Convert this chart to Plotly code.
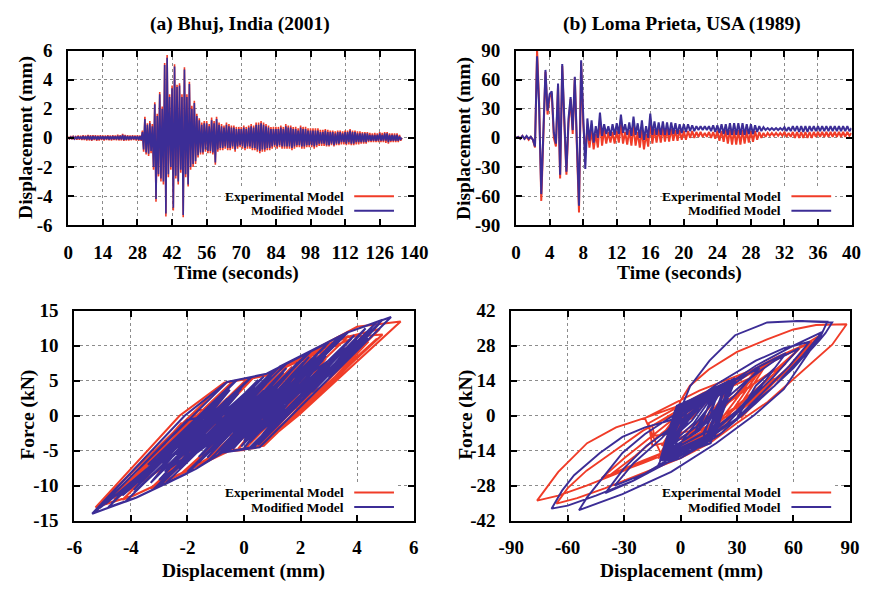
import numpy as np
import plotly.graph_objects as go

W, H = 882, 596
SERIF = "Liberation Serif, Times New Roman, serif"
RED = "#f03c28"
BLUE = "#3c2d96"

# ---- (a) Bhuj: displacement history (mm), every 0.5 s ----
BHUJ_DT = 0.5
bhuj_mod = [
    0.03, -0.05, 0.06, -0.05, 0.08, -0.07, 0.06, -0.08, 0.1, -0.08, 0.09, -0.1, 0.12, -0.1, 0.1, -0.12, 0.14, -0.12, 0.12, -0.15,
    0.12, -0.1, 0.13, -0.14, 0.1, -0.12, 0.12, -0.1, 0.11, -0.12, 0.1, -0.09, 0.12, -0.11, 0.1, -0.12, 0.12, -0.1, 0.1, -0.11,
    0.15, -0.12, 0.13, -0.12, 0.2, -0.15, 0.14, -0.13, 0.12, -0.12, 0.1, -0.11, 0.13, -0.1, 0.1, -0.12, 0.12, -0.14, 0.1, -0.15,
    0.4, -0.8, 1.3, -1.0, 0.9, -1.1, 1.0, -0.9, 0.8, -2.0, 2.3, -4.2, 1.5, -2.5, 3.0, -2.8, 2.0, -3.0, 5.0, -5.2,
    5.5, -2.5, 2.8, -2.0, 3.4, -4.8, 4.9, -2.6, 3.5, -3.0, 3.6, -2.2, 2.8, -5.3, 4.7, -2.5, 2.8, -3.2, 3.7, -2.0,
    2.0, -1.8, 2.4, -1.6, 1.5, -1.2, 1.2, -1.0, 0.9, -1.0, 1.0, -0.8, 1.0, -0.9, 0.8, -0.9, 1.2, -1.0, 1.0, -1.7,
    1.3, -0.8, 0.9, -0.7, 0.8, -0.7, 0.7, -0.6, 0.9, -0.7, 0.8, -0.7, 0.7, -0.6, 0.7, -0.8, 0.6, -0.6, 0.6, -0.5,
    0.6, -0.6, 0.7, -0.7, 0.6, -0.6, 0.7, -0.6, 0.8, -0.7, 0.7, -0.7, 0.9, -0.8, 0.9, -0.9, 1.0, -0.8, 0.9, -0.8,
    0.8, -0.7, 0.7, -0.7, 0.6, -0.6, 0.6, -0.5, 0.6, -0.6, 0.6, -0.5, 0.7, -0.6, 0.6, -0.6, 0.8, -0.6, 0.7, -0.6,
    0.7, -0.7, 0.6, -0.6, 0.6, -0.5, 0.5, -0.5, 0.7, -0.6, 0.6, -0.6, 0.6, -0.5, 0.5, -0.5, 0.5, -0.5, 0.5, -0.6,
    0.5, -0.5, 0.5, -0.4, 0.4, -0.4, 0.4, -0.4, 0.5, -0.5, 0.4, -0.5, 0.4, -0.4, 0.4, -0.5, 0.3, -0.4, 0.4, -0.4,
    0.4, -0.3, 0.3, -0.3, 0.4, -0.4, 0.4, -0.3, 0.5, -0.4, 0.4, -0.4, 0.4, -0.3, 0.3, -0.3, 0.3, -0.3, 0.3, -0.3,
    0.3, -0.3, 0.3, -0.2, 0.2, -0.2, 0.2, -0.2, 0.2, -0.2, 0.2, -0.2, 0.3, -0.2, 0.2, -0.2, 0.3, -0.2, 0.3, -0.3,
    0.2, -0.2, 0.2, -0.2, 0.2, -0.2, 0.2, -0.2, 0.1, -0.1, 0.0,
]
bhuj_exp = [
    0.08, -0.1, 0.12, -0.1, 0.14, -0.13, 0.12, -0.14, 0.16, -0.14, 0.15, -0.16, 0.18, -0.16, 0.16, -0.18, 0.2, -0.18, 0.18, -0.21,
    0.18, -0.16, 0.19, -0.2, 0.16, -0.18, 0.18, -0.16, 0.17, -0.18, 0.16, -0.15, 0.18, -0.17, 0.16, -0.18, 0.18, -0.16, 0.16, -0.17,
    0.21, -0.18, 0.19, -0.18, 0.27, -0.21, 0.2, -0.19, 0.18, -0.18, 0.16, -0.17, 0.19, -0.16, 0.16, -0.18, 0.18, -0.2, 0.16, -0.21,
    0.5, -0.95, 1.45, -1.15, 1.0, -1.25, 1.15, -1.05, 0.95, -2.2, 2.45, -4.4, 1.65, -2.65, 3.15, -3.0, 2.15, -3.2, 5.15, -5.4,
    5.7, -2.7, 3.0, -2.2, 3.6, -5.0, 5.05, -2.8, 3.65, -3.2, 3.75, -2.4, 3.0, -5.45, 4.85, -2.7, 3.0, -3.35, 3.85, -2.2,
    2.2, -2.0, 2.55, -1.8, 1.65, -1.35, 1.35, -1.15, 1.05, -1.15, 1.15, -0.95, 1.15, -1.05, 0.95, -1.05, 1.4, -1.15, 1.15, -1.85,
    1.45, -0.95, 1.05, -0.85, 0.95, -0.85, 0.85, -0.75, 1.05, -0.85, 0.95, -0.85, 0.85, -0.75, 0.85, -0.95, 0.75, -0.75, 0.75, -0.65,
    0.75, -0.75, 0.85, -0.85, 0.75, -0.75, 0.85, -0.75, 0.95, -0.85, 0.85, -0.85, 1.05, -0.95, 1.05, -1.05, 1.15, -0.95, 1.05, -0.95,
    0.95, -0.85, 0.85, -0.85, 0.75, -0.75, 0.75, -0.65, 0.75, -0.75, 0.75, -0.65, 0.85, -0.75, 0.75, -0.75, 0.95, -0.75, 0.85, -0.75,
    0.85, -0.85, 0.75, -0.75, 0.75, -0.65, 0.65, -0.65, 0.85, -0.75, 0.75, -0.75, 0.75, -0.65, 0.65, -0.65, 0.65, -0.65, 0.65, -0.75,
    0.65, -0.65, 0.65, -0.55, 0.55, -0.55, 0.55, -0.55, 0.6, -0.6, 0.55, -0.6, 0.5, -0.5, 0.5, -0.6, 0.45, -0.5, 0.5, -0.5,
    0.5, -0.45, 0.45, -0.45, 0.5, -0.5, 0.5, -0.45, 0.6, -0.5, 0.5, -0.5, 0.5, -0.45, 0.45, -0.45, 0.45, -0.4, 0.4, -0.4,
    0.4, -0.4, 0.4, -0.3, 0.35, -0.3, 0.3, -0.3, 0.35, -0.3, 0.3, -0.3, 0.4, -0.3, 0.35, -0.3, 0.4, -0.35, 0.4, -0.4,
    0.3, -0.3, 0.3, -0.3, 0.3, -0.3, 0.3, -0.3, 0.2, -0.2, 0.0,
]

# ---- (b) Loma Prieta: displacement history (mm), every 0.25 s ----
LOMA_DT = 0.25
loma_mod = [0, 1, -1, 2, -1, 2, -1, 1, -2, -9,
            84, 30, -58, 15, 70, 28, 45, 48, 5, -6,
            56, -38, 76, 20, -35, 20, 42, 8, 63, -5,
            -70, 80, 20, -32, 20, -3, 18, -5, 12, 0,
            26, 2, 14, 4, 12, 2, 14, 3, 15, 4,
            24, 5, 14, 3, 16, 2, 22, 3, 15, 0,
            18, -2, 12, 0, 25, 3, 17, 3, 16, 3,
            17, 3, 16, 3, 16, 4, 15, 4, 14, 5,
            14, 6, 14, 7, 13, 7, 12, 8, 12, 8,
            12, 8, 12, 7, 13, 6, 13, 5, 14, 4,
            14, 3, 15, 3, 15, 3, 15, 3, 15, 3,
            14, 4, 14, 4, 13, 6, 12, 7, 11, 8,
            10, 8, 10, 8, 10, 8, 10, 8, 11, 7,
            11, 7, 12, 7, 12, 6, 12, 6, 12, 6,
            12, 7, 12, 7, 12, 7, 12, 7, 12, 7,
            12, 7, 12, 7, 12, 7, 12, 7, 12, 7,
            10]
loma_exp = [0, 1, -1, 2, -1, 1, -2, 1, -2, -10,
            91, 35, -65, 10, 68, 24, 42, 46, 0, -9,
            54, -42, 74, 15, -38, 15, 40, 4, 62, -10,
            -77, 78, 15, -15, 10, -10, 8, -12, 4, -10,
            18, -8, 8, -6, 6, -5, 6, -6, 7, -5,
            14, -6, 6, -7, 8, -8, 12, -8, 6, -10,
            8, -12, 4, -9, 16, -6, 9, -5, 9, -5,
            10, -4, 9, -4, 9, -3, 8, -3, 8, -2,
            7, -2, 7, 0, 7, 0, 6, 1, 6, 1,
            5, 1, 6, 0, 6, -1, 7, -3, 7, -4,
            8, -6, 8, -7, 8, -7, 8, -7, 8, -6,
            8, -5, 7, -4, 7, -2, 6, 0, 5, 1,
            5, 2, 5, 2, 5, 2, 5, 2, 6, 1,
            5, 1, 6, 0, 6, 0, 6, 0, 6, 0,
            6, 0, 6, 1, 6, 1, 6, 1, 6, 1,
            6, 1, 6, 1, 6, 1, 6, 1, 6, 2,
            5]

# ---- hysteresis loops: (displacement mm, force kN) ----
bhuj_loop_mod = [
    (0, 0), (0.15, 0.6), (-0.15, -0.6), (0.2, 0.8), (-0.2, -0.8),
    (1.3, 4.8), (-1.1, -4.8), (0.9, 3.2), (-2.0, -8.0),
    (2.25, 9.0), (2.3, 9.1),
    (-2.04, -8.3), (-3.8, -11.7), (-4.2, -12.3),
    (0.26, 5.5), (0.8, 6.0), (3.0, 10.5),
    (-1.25, -6.4), (-1.7, -7.6), (-3.8, -11.7), (-5.37, -14.0),
    (-2.1, 0.0), (-0.6, 4.8), (0.8, 6.0), (3.6, 11.8), (5.2, 14.1),
    (0.55, -4.5), (-0.8, -5.3), (-1.7, -7.6), (-2.8, -9.8),
    (1.52, 7.5), (3.4, 11.4),
    (-0.77, -5.3), (-1.7, -7.6), (-3.8, -11.7), (-4.8, -13.1),
    (-0.25, 5.1), (0.8, 6.0), (3.6, 11.8), (4.9, 13.7),
    (0.34, -4.5), (-0.8, -5.3), (-1.7, -7.6), (-3.0, -10.1),
    (1.26, 7.0), (3.6, 11.8),
    (-0.65, -5.2), (-0.8, -5.3), (-1.7, -7.6), (-3.8, -11.7), (-5.3, -13.9),
    (-0.6, 4.8), (0.8, 6.0), (3.6, 11.8), (4.7, 13.4),
    (0.19, -4.6), (-0.8, -5.3), (-1.7, -7.6), (-3.2, -10.5),
    (1.06, 6.5), (3.6, 11.8), (3.7, 12.0),
    (-0.59, -5.2), (-0.8, -5.3), (-1.7, -7.6), (-2.0, -8.2),
    (2.35, 9.2), (2.4, 9.3),
    (-1.6, -6.7), (1.2, 4.5),
    (-3.4, -7.0), (-0.3, 5.0), (-2.6, -5.2), (0.2, 5.3), (-2.2, -4.9), (0.7, 5.6),
    (-1.9, -5.3), (1.0, 6.0), (-1.5, -5.6), (1.5, 6.8), (-1.2, -5.6), (1.9, 7.6),
    (-0.8, -5.3), (2.3, 8.4), (-0.4, -4.8), (2.6, 8.8), (0.0, -4.6), (2.9, 8.6),
    (0.3, -4.5), (3.2, 8.0), (0.5, -4.2), (3.0, 6.0),
    (0.2, -3.5), (2.4, 5.0), (-0.3, -4.0), (1.8, 4.4), (-0.7, -4.2), (1.2, 3.8),
    (-1.1, -4.5), (0.7, 3.6), (-1.5, -4.8), (0.2, 3.4), (-1.9, -5.0), (-0.2, 3.2),
    (-2.2, -4.6), (-0.6, 2.4), (-1.8, -2.6), (-0.2, 3.6), (-1.4, -1.8), (0.6, 4.0),
    (-0.9, -2.2), (1.1, 3.6), (-0.4, -2.4), (1.5, 3.4), (0.0, -2.6), (1.4, 2.4),
    (-0.3, -3.4), (0.9, 1.8), (-0.6, -2.6), (0.4, 1.4), (-0.2, -0.8), (0.1, 0.2),
    (-2.8, -8.0), (0.0, 4.6), (-2.4, -6.6), (0.5, 5.1), (-2.0, -6.0), (1.0, 5.5),
    (-1.6, -5.9), (1.4, 6.2), (-1.3, -6.0), (1.8, 7.0), (-0.9, -5.5), (2.1, 7.6),
    (-0.5, -4.9), (2.5, 8.2), (-0.1, -4.4), (2.8, 8.0), (0.2, -3.8), (2.7, 6.6),
    (0.0, -3.2), (2.2, 5.2), (-0.5, -3.6), (1.6, 4.6), (-1.0, -4.0), (1.0, 4.2),
    (-1.4, -4.4), (0.4, 4.0), (-1.8, -4.6), (-0.1, 3.9), (-2.4, -5.6), (-0.5, 3.7),
    (-2.9, -6.8), (-1.0, 2.0), (-3.2, -7.8), (-1.4, 0.2), (-3.6, -9.0), (-1.9, -1.5),
    (-4.0, -10.3), (-2.5, -4.2), (-4.5, -11.6), (-3.2, -6.8), (-4.9, -12.6), (-3.7, -8.6),
    (-5.1, -13.2), (-2.0, -0.6), (1.6, 2.4), (3.9, 11.5), (2.0, 3.0), (4.3, 12.5),
    (2.6, 4.6), (4.6, 13.0), (3.1, 6.4), (4.0, 10.8), (2.2, 5.6), (3.3, 10.6),
    (1.5, 4.6), (2.9, 10.0), (0.8, 2.0),
    (-3.0, -9.2), (-0.6, 1.4), (-3.9, -11.0), (-1.2, -0.4), (-4.3, -11.4), (-2.0, -2.4),
    (-4.7, -12.6), (-2.4, -3.6), (-3.9, -10.6), (-1.7, -1.8), (-3.3, -9.6), (-1.0, -0.2),
    (-2.6, -8.4), (0.2, 2.4), (-2.3, -7.6), (0.6, 3.2), (-1.6, -6.6), (1.2, 4.4),
    (-1.0, -5.4), (2.0, 6.8), (0.0, -3.6), (3.0, 9.4), (1.0, -1.2), (3.5, 9.2),
    (1.6, 1.0), (4.2, 11.4), (2.4, 3.4), (4.8, 13.2), (3.0, 5.4), (4.4, 11.0),
    (2.0, 3.6), (3.4, 8.8), (1.2, 1.6), (2.6, 7.6), (0.4, -0.4),
]
bhuj_loop_exp = [
    (0, 0), (0.18, 0.7), (-0.18, -0.7), (0.25, 0.9), (-0.25, -0.9),
    (1.4, 4.9), (-1.2, -4.9), (1.0, 3.3), (-2.1, -8.0),
    (2.4, 8.8), (2.5, 9.0),
    (-2.2, -8.2), (-3.9, -11.4), (-4.3, -12.0),
    (0.1, 5.2), (0.9, 5.8), (3.1, 10.2),
    (-1.3, -6.2), (-1.8, -7.5), (-3.9, -11.4), (-5.25, -13.1),
    (-2.28, 0.0), (-0.7, 4.7), (0.8, 5.8), (4.0, 12.7), (5.54, 13.47),
    (1.94, 0.1), (0.57, -4.4), (-0.9, -5.2), (-1.8, -7.5), (-2.9, -9.6),
    (1.6, 7.3), (3.5, 11.2),
    (-0.6, -4.9), (-1.8, -7.5), (-3.9, -11.4), (-4.9, -12.6),
    (-0.4, 4.9), (0.8, 5.8), (3.6, 11.2), (4.9, 11.6),
    (1.7, -0.4), (0.7, -4.3), (-0.9, -5.2), (-1.8, -7.5), (-3.1, -10.0),
    (1.3, 6.8), (3.7, 11.4),
    (-0.5, -5.0), (-1.8, -7.5), (-3.9, -11.4), (-5.2, -13.0),
    (-0.7, 4.7), (0.8, 5.8), (3.6, 11.2), (4.8, 12.4),
    (1.5, -0.8), (0.4, -4.6), (-0.9, -5.2), (-1.8, -7.5), (-3.3, -10.4),
    (1.1, 6.3), (3.8, 11.0),
    (0.0, -4.9), (-0.9, -5.2), (-2.1, -8.1),
    (2.5, 9.1), (-1.7, -6.8), (1.3, 4.6),
    (-3.5, -7.0), (-0.4, 4.9), (-2.7, -5.2), (0.3, 5.3), (-2.0, -4.6), (1.0, 5.8),
    (-1.4, -5.5), (1.7, 7.0), (-0.9, -5.3), (2.4, 8.3), (-0.2, -4.7), (2.9, 8.2),
    (0.5, -4.4), (3.3, 7.4), (0.9, -3.5), (2.8, 4.2), (-0.5, -3.0), (1.0, 2.6),
    (-0.6, -1.8), (0.3, 1.2), (0, 0),
    (-4.6, -12.0), (-2.2, -1.0), (-4.1, -10.2), (-1.6, 0.8), (2.2, 1.2), (4.4, 10.6),
    (2.4, 2.0), (4.7, 11.0), (1.0, -2.6),
]
loma_loop_mod = [
    (0, 0), (-4, -5), (-9, -8), (-5, -4), (-1, 0), (1.7, 5.5), (5.1, 11.8), (15.4, 22),
    (29, 32.2), (46, 37.3), (63, 37.9), (80.6, 37.3),
    (77, 33), (73.7, 30), (68.6, 25.8), (54.9, 10.6), (39.4, 0.4), (18.9, -11), (-5, -22.5),
    (-30.9, -31.4), (-45, -35.5), (-54, -37.8),
    (-49.7, -32.7), (-42.9, -26.3), (-30.9, -14.9), (-18.9, -7.3), (0, 2), (20, 13),
    (40, 22), (55, 27), (68.6, 29.6),
    (58, 20), (30, -1), (40, 12), (50, 19),
    (40, 9), (25, -3), (5, -14), (-7, -18),
    (5, -6), (20, 8), (40, 19), (56, 25),
    (45, 14), (30, 2), (10, -10), (-10, -19), (-25, -26), (-40, -31),
    (-30, -21), (-18, -12), (0, -2), (20, 10), (40, 20), (60, 28), (75.4, 33.5),
    (65, 24), (50, 12), (30, -1), (10, -12), (-15, -22), (-35, -28),
    (-25, -19), (-10, -9), (5, 3), (20, 11), (42, 19),
    (30, 9), (8, -7),
    (20, 4), (35, 14), (50, 22), (63, 27),
    (50, 16), (35, 5), (15, -8), (-5, -18), (-25, -26), (-45, -32), (-60, -36), (-68.6, -37.2),
    (-63, -30), (-56.6, -23.8), (-42.9, -14.9), (-30.9, -8.5), (-18.9, -4.7), (-6, -2), (-1, 0),
    (1.7, 5.5), (5.1, 11.8), (15.4, 22), (29, 32.2), (46, 37.3), (63, 37.9), (78, 37.6),
    (74, 31), (60, 19), (40, 5), (20, -8), (0, -17), (-12, -20),
    (-10, -17), (-2, 4), (29, 14), (16, -10), (-10, -17),
    (-1, 2), (27, 13), (14, -8), (-9, -16),
    (0, 1), (25, 12), (12, -7), (-8, -15),
    (1, 0), (22, 11), (10, -6), (-7, -14),
    (2, -1), (20, 10), (9, -4), (-5, -12),
    (3, -1), (17, 8), (7, -3), (-3, -10),
    (4, 0), (14, 6), (6, -2), (0, -6),
    (6, 1), (10, 3), (5, -1),
    (-11, -18), (-3, 2), (27, 14), (18, -9), (-6, -16), (-2, -4), (24, 13), (17, -7),
    (-9, -17), (0, 0), (29, 14), (14, -11), (-4, -15), (3, 1), (21, 12), (12, -9),
    (-7, -16), (-1, -1), (26, 13), (19, -6), (-10, -18), (-2, 3), (23, 12), (15, -9),
    (-8, -17), (1, 2), (28, 14), (20, -4), (-5, -14), (4, 3), (18, 10), (10, -5),
    (-9, -16), (-1, 4), (26, 14), (16, -11), (-10, -18), (0, 3), (29, 15), (18, -8),
    (-7, -17), (-2, 1), (24, 13), (13, -10), (-10, -17), (2, 4), (27, 14), (15, -10),
    (-6, -15), (5, 5), (20, 11), (8, -6),
]
loma_loop_exp = [
    (0, 0), (-6, -6), (-10, -8), (-3, -1), (0, 6), (5, 12), (15, 18.5), (30, 25.5),
    (46, 30.5), (60, 34.5), (72, 36.3), (88.3, 36.6),
    (80.6, 28.4), (63.4, 16.9), (46.3, 5.5), (29.1, -3.4), (15.4, -11), (0, -17),
    (-20, -23), (-40, -29), (-55, -33), (-66, -35.2),
    (-60, -29), (-50, -22), (-35, -14), (-20, -6), (0, 2), (20, 10), (40, 18), (55, 24), (68.6, 29),
    (58, 20), (32, -1), (42, 10), (50, 15),
    (35, 4), (15, -7), (0, -14), (-9, -17),
    (5, -8), (25, 5), (45, 16), (56, 21),
    (40, 10), (20, -3), (0, -12), (-20, -18), (-42, -25),
    (-30, -17), (-15, -8), (0, 1), (25, 13), (50, 23), (65, 28), (73.7, 32),
    (60, 21), (40, 8), (20, -4), (0, -13), (-20, -19), (-38, -24),
    (-24, -16), (-10, -7), (10, 4), (25, 11), (40, 16),
    (25, 5), (8, -4),
    (20, 4), (35, 11), (50, 18), (63.4, 27),
    (50, 17), (30, 4), (10, -7), (-10, -15), (-30, -22), (-50, -28), (-65, -32), (-76.3, -34),
    (-65, -22.5), (-49.7, -11), (-34.3, -4.7), (-18.9, -0.9), (0, 4.2), (20, 11), (35, 16),
    (46, 20.7), (60, 26), (70, 29.5),
    (60, 20), (40, 7), (20, -5), (0, -13), (-12, -17),
    (0, 0), (46, 21), (22, -7), (-10, -16),
    (-19, -1), (10, 10), (44, 20), (20, -6), (-15, -12),
    (-17, -3), (12, 9), (42, 19), (18, -5), (-14, -8),
    (-15, -4), (14, 9), (40, 18), (15, -4), (-10, -12),
    (5, 6), (30, 15), (12, -3), (-8, -13),
    (0, 2), (25, 13), (10, -2), (-5, -10), (3, 2), (18, 9), (6, -1), (0, -3),
    (-8, -15), (-2, -2), (-10, -17), (-4, -6), (-9, -16), (-1, 0),
]

# tick values
ticks_bhuj_t = [0, 14, 28, 42, 56, 70, 84, 98, 112, 126, 140]
ticks_bhuj_d = [-6, -4, -2, 0, 2, 4, 6]
ticks_loma_t = [0, 4, 8, 12, 16, 20, 24, 28, 32, 36, 40]
ticks_loma_d = [-90, -60, -30, 0, 30, 60, 90]
ticks_bhuj_loop_d = [-6, -4, -2, 0, 2, 4, 6]
ticks_bhuj_loop_f = [-15, -10, -5, 0, 5, 10, 15]
ticks_loma_loop_d = [-90, -60, -30, 0, 30, 60, 90]
ticks_loma_loop_f = [-42, -28, -14, 0, 14, 28, 42]


def px(x):
    return x / W


def py(y):
    return 1 - y / H


def axis(vals, rng, domain, anchor, standoff):
    return dict(
        domain=domain, anchor=anchor, range=rng,
        tickvals=vals, ticktext=[str(v) for v in vals],
        showline=True, linecolor="black", linewidth=2, mirror="ticks",
        ticks="inside", ticklen=6, tickwidth=1.5, tickcolor="black",
        showgrid=True, gridcolor="#8c8c8c", griddash="dot", gridwidth=1,
        zeroline=False, ticklabelstandoff=standoff,
        tickfont=dict(family=SERIF, size=19, color="black", weight="bold"),
    )


fig = go.Figure()


def add_pair(xe, ye, xm, ym, xa, ya, width):
    fig.add_trace(go.Scatter(x=xe, y=ye, mode="lines", xaxis=xa, yaxis=ya,
                             line=dict(color=RED, width=width), showlegend=False))
    fig.add_trace(go.Scatter(x=xm, y=ym, mode="lines", xaxis=xa, yaxis=ya,
                             line=dict(color=BLUE, width=width), showlegend=False))


t_bhuj = np.arange(len(bhuj_mod)) * BHUJ_DT
t_loma = np.arange(len(loma_mod)) * LOMA_DT
add_pair(t_bhuj, bhuj_exp, t_bhuj, bhuj_mod, "x", "y", 1.6)
add_pair(t_loma, loma_exp, t_loma, loma_mod, "x2", "y2", 2.0)
bxe, bye = zip(*bhuj_loop_exp)
bxm, bym = zip(*bhuj_loop_mod)
add_pair(bxe, bye, bxm, bym, "x3", "y3", 2.1)
lxe, lye = zip(*loma_loop_exp)
lxm, lym = zip(*loma_loop_mod)
add_pair(lxe, lye, lxm, lym, "x4", "y4", 1.9)

top = [py(223), py(42)]
bot = [py(529.3), py(311.7)]

fig.update_layout(
    width=W, height=H, margin=dict(l=0, r=0, t=0, b=0),
    paper_bgcolor="white", plot_bgcolor="white", showlegend=False,
    xaxis=axis(ticks_bhuj_t, [0, 140], [px(57), px(414)], "y", 9),
    yaxis=axis(ticks_bhuj_d, [-6, 6], top, "x", 10),
    xaxis2=axis(ticks_loma_t, [0, 40], [px(519), px(865)], "y2", 9),
    yaxis2=axis(ticks_loma_d, [-90, 90], top, "x2", 10),
    xaxis3=axis(ticks_bhuj_loop_d, [-6, 6], [px(63.3), px(413.3)], "y3", 9),
    yaxis3=axis(ticks_bhuj_loop_f, [-15, 15], bot, "x3", 10),
    xaxis4=axis(ticks_loma_loop_d, [-90, 90], [px(514), px(863.3)], "y4", 9),
    yaxis4=axis(ticks_loma_loop_f, [-42, 42], bot, "x4", 10),
)

bold = lambda s: dict(family=SERIF, size=s, color="black", weight="bold")
notes = [
    ("(a) Bhuj, India (2001)", 234, 15, 0, 19.5),
    ("(b) Loma Prieta, USA (1989)", 690, 15, 0, 19.5),
    ("Time (seconds)", 231, 273, 0, 19.5),
    ("Time (seconds)", 688, 273, 0, 19.5),
    ("Displacement (mm)", 238, 581, 0, 19.5),
    ("Displacement (mm)", 690, 581, 0, 19.5),
    ("Displacement (mm)", 14, 132, -90, 19.5),
    ("Displacement (mm)", 466, 133, -90, 19.5),
    ("Force (kN)", 16, 420, -90, 19.5),
    ("Force (kN)", 468, 420, -90, 19.5),
]
for text, x, y, ang, size in notes:
    fig.add_annotation(text=text, x=px(x), y=py(y), xref="paper", yref="paper",
                       showarrow=False, textangle=ang, font=bold(size),
                       xanchor="center", yanchor="middle")

# gnuplot-style keys: opaque box, right-aligned label, line sample on the right
for text_end, row_y, box_bottom in [(343, 193, 216), (794, 193, 216), (343, 500, 523), (794, 500, 523)]:
    fig.add_shape(type="rect", xref="paper", yref="paper", layer="above",
                  x0=px(text_end - 124), x1=px(text_end + 54),
                  y0=py(box_bottom), y1=py(row_y - 10),
                  fillcolor="white", line=dict(width=0))
    for i, (label, col) in enumerate([("Experimental Model", RED), ("Modified Model", BLUE)]):
        yy = row_y + i * 15.2
        fig.add_annotation(text=label, x=px(text_end), y=py(yy), xref="paper", yref="paper",
                           showarrow=False, xanchor="right", yanchor="middle", font=bold(13.5))
        fig.add_shape(type="line", xref="paper", yref="paper", layer="above",
                      x0=px(text_end + 9), x1=px(text_end + 50), y0=py(yy), y1=py(yy),
                      line=dict(color=col, width=2))

fig.write_html("out.html", config={"displayModeBar": False},
               post_script="document.body.style.margin='0px';")
